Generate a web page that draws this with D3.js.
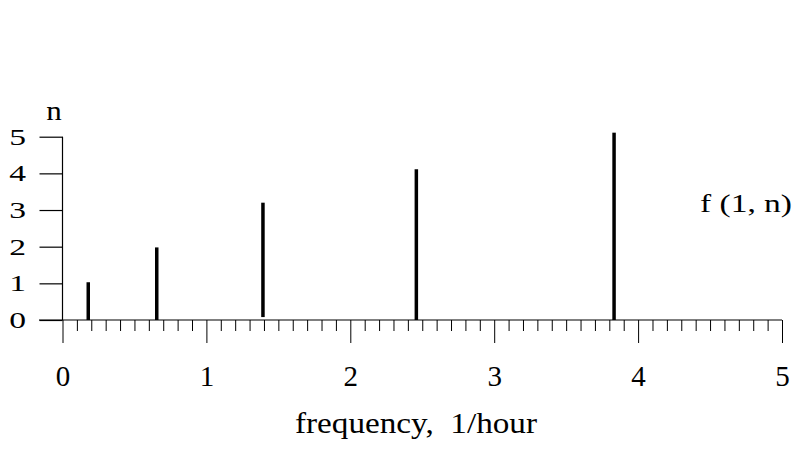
<!DOCTYPE html>
<html>
<head>
<meta charset="utf-8">
<script src="https://cdn.jsdelivr.net/npm/d3@7"></script>
<style>
  html, body { margin: 0; padding: 0; background: #fff; }
  svg { display: block; }
</style>
</head>
<body>
<svg id="chart" width="798" height="449"></svg>
<script>
// Data
const frequencies = [0.179, 0.655, 1.393, 2.459, 3.833];   // 1/hour
const stemTops    = [1.03, 1.98, 3.2, 4.11, 5.11];          // n
const stemBases   = [0, 0, 0.08, 0, 0];
const xTickLabels = [0, 1, 2, 3, 4, 5];
const yTickLabels = [0, 1, 2, 3, 4, 5];
const xLabel = "frequency,  1/hour";
const yLabel = "n";
const seriesLabel = "f (1, n)";

const FONT = "'Liberation Serif', serif";
const svg = d3.select("#chart");
const x = d3.scaleLinear().domain([0, 5]).range([62.5, 782]);
const y = d3.scaleLinear().domain([0, 5]).range([320, 136.7]);

const ink = "#000";

// Minor x ticks
const minorVals = d3.range(0, 51).map(i => i / 10).filter(v => Math.abs(v - Math.round(v)) > 1e-6);
const gMinor = svg.append("g").attr("transform", `translate(0,${y(0)})`)
  .call(d3.axisBottom(x).tickValues(minorVals).tickSize(11).tickFormat(""));
gMinor.select(".domain").remove();
gMinor.selectAll("line").attr("stroke", ink).attr("stroke-width", 1);

// Major x ticks
const gMajor = svg.append("g").attr("transform", `translate(0,${y(0)})`)
  .call(d3.axisBottom(x).tickValues(xTickLabels).tickSize(23).tickFormat(d3.format("d")));
gMajor.select(".domain").remove();
gMajor.selectAll("line").attr("stroke", ink).attr("stroke-width", 1);
gMajor.selectAll("text")
  .style("font-family", FONT)
  .style("font-size", "29px")
  .attr("fill", ink)
  .attr("dy", 0)
  .attr("y", 66);

// x baseline (extends left of the y axis)
svg.append("line")
  .attr("x1", 39).attr("x2", x(5))
  .attr("y1", y(0)).attr("y2", y(0))
  .attr("stroke", ink).attr("stroke-width", 1.2);

// Y axis
const gY = svg.append("g").attr("transform", `translate(${x(0)},0)`)
  .call(d3.axisLeft(y).tickValues(yTickLabels).tickSize(23).tickFormat(""));
gY.select(".domain").remove();
gY.selectAll("line").attr("stroke", ink).attr("stroke-width", 1.2);
svg.append("line")
  .attr("x1", x(0)).attr("x2", x(0))
  .attr("y1", y(5)).attr("y2", y(0))
  .attr("stroke", ink).attr("stroke-width", 1.2);

// Y tick labels (horizontally stretched like the reference)
svg.append("g").selectAll("text").data(yTickLabels).join("text")
  .attr("text-anchor", "end")
  .style("font-family", FONT)
  .style("font-size", "24px")
  .attr("transform", d => `translate(26,${y(d) + 8}) scale(1.4,1)`)
  .text(d => d);

// y label
svg.append("text")
  .attr("text-anchor", "middle")
  .style("font-family", FONT)
  .style("font-size", "27px")
  .attr("transform", `translate(54,120) scale(1.15,1)`)
  .text(yLabel);

// Stems
svg.append("g").selectAll("line").data(frequencies).join("line")
  .attr("x1", d => x(d)).attr("x2", d => x(d))
  .attr("y1", (d, i) => y(stemBases[i]))
  .attr("y2", (d, i) => y(stemTops[i]))
  .attr("stroke", ink).attr("stroke-width", 3.5);

// Series label
svg.append("text")
  .attr("x", 700).attr("y", 212)
  .style("font-family", FONT)
  .style("font-size", "25px")
  .attr("textLength", 92)
  .attr("lengthAdjust", "spacingAndGlyphs")
  .text(seriesLabel);

// x label
svg.append("text")
  .attr("x", 295).attr("y", 433)
  .style("font-family", FONT)
  .style("font-size", "29px")
  .style("white-space", "pre")
  .attr("textLength", 242)
  .attr("lengthAdjust", "spacingAndGlyphs")
  .text(xLabel);
</script>
</body>
</html>
